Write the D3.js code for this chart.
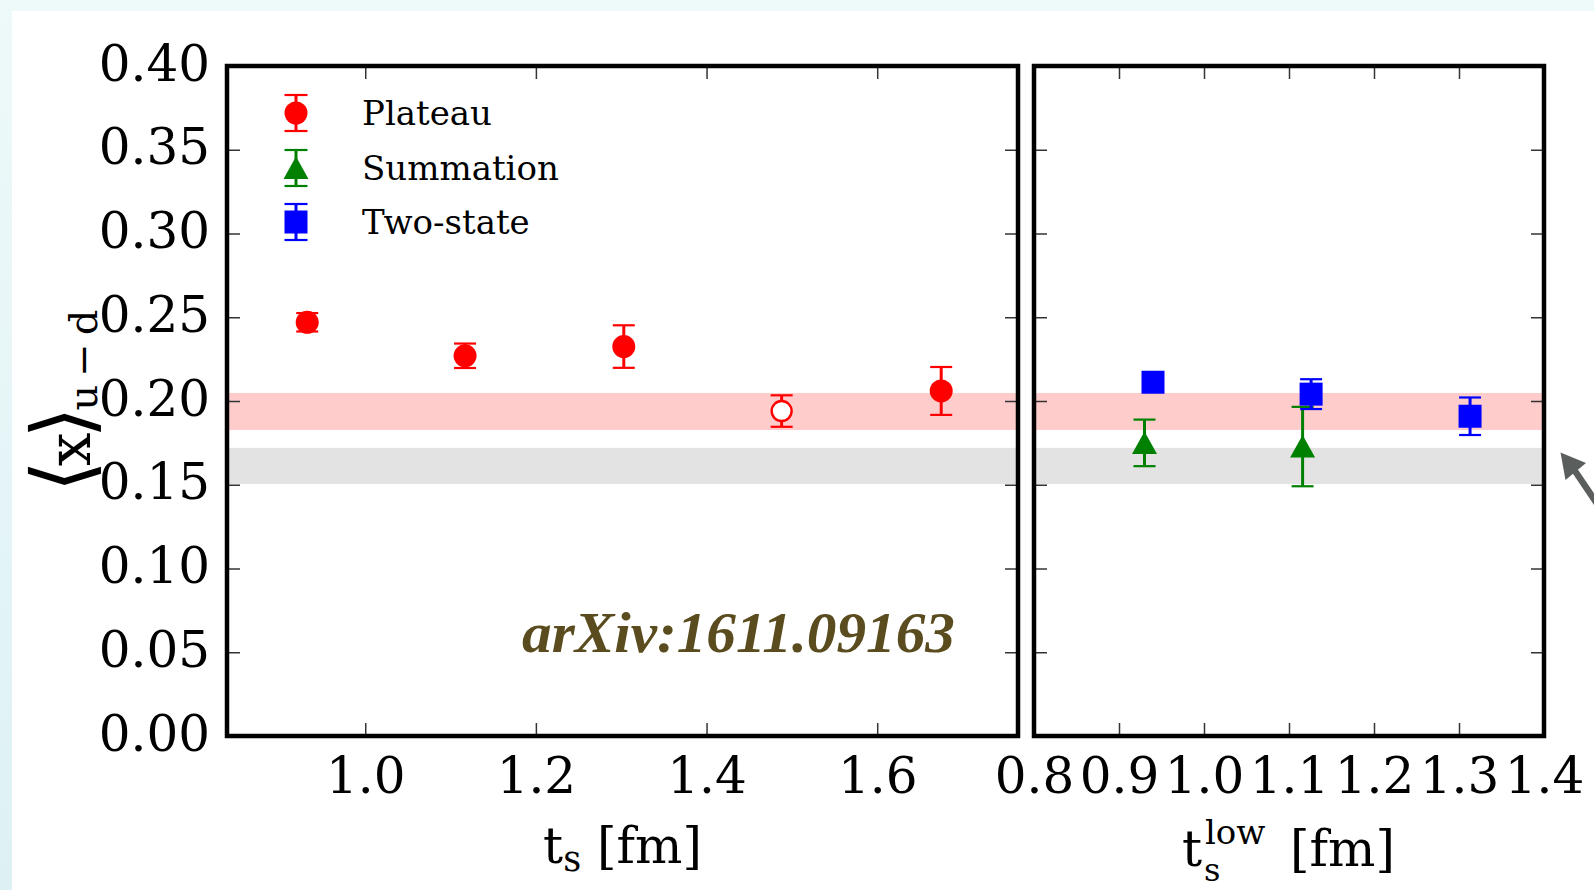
<!DOCTYPE html>
<html>
<head>
<meta charset="utf-8">
<script src="https://cdn.jsdelivr.net/npm/d3@7"></script>
<style>
  html, body { margin: 0; padding: 0; }
  body { width: 1594px; height: 890px; overflow: hidden; }
  svg { display: block; }
</style>
</head>
<body>
<svg id="chart" width="1594" height="890"></svg>
<script>
// ---------------- data ----------------
const yTicks = [0.00, 0.05, 0.10, 0.15, 0.20, 0.25, 0.30, 0.35, 0.40];
const leftXTicks = [1.0, 1.2, 1.4, 1.6];
const rightXTicks = [0.8, 0.9, 1.0, 1.1, 1.2, 1.3, 1.4];

const plateauX = [0.932, 1.117, 1.303, 1.488, 1.675];
const plateauY = [0.247, 0.227, 0.2325, 0.194, 0.206];
const plateauErr = [0.0055, 0.0073, 0.0127, 0.0094, 0.0143];
const plateauOpen = [false, false, false, true, false];

const summationX = [0.93, 1.116];
const summationY = [0.175, 0.1728];
const summationErr = [0.0139, 0.0237];

const twoStateX = [0.94, 1.126, 1.313];
const twoStateY = [0.2112, 0.2041, 0.1909];
const twoStateErr = [0.004, 0.0089, 0.0112];

const pinkBand = [0.1827, 0.2048];
const grayBand = [0.1504, 0.1720];

const legendLabels = ["Plateau", "Summation", "Two-state"];
const watermark = "arXiv:1611.09163";

// ---------------- layout ----------------
(function () {
const svg = d3.select("#chart");
const yTop = 66, yBot = 736;
const L = {x0: 227, x1: 1018};
const R = {x0: 1034, x1: 1544};

const y = d3.scaleLinear().domain([0, 0.4]).range([yBot, yTop]);
const xL = d3.scaleLinear().domain([0.838, 1.765]).range([L.x0, L.x1]);
const xR = d3.scaleLinear().domain([0.8, 1.4]).range([R.x0, R.x1]);

const RED = "#ff0000", GREEN = "#008000", BLUE = "#0000ff";
const SERIF = "'DejaVu Serif', serif";

const defs = svg.append("defs");
const grad = defs.append("linearGradient").attr("id", "bg").attr("x1", 0).attr("y1", 0).attr("x2", 0).attr("y2", 1);
grad.append("stop").attr("offset", "0%").attr("stop-color", "#eef9f9");
grad.append("stop").attr("offset", "100%").attr("stop-color", "#ddf1f5");
svg.append("rect").attr("width", 1594).attr("height", 890).attr("fill", "url(#bg)");
svg.append("rect").attr("x", 12).attr("y", 11).attr("width", 1594 - 12).attr("height", 890 - 11).attr("fill", "#ffffff");

function clip(id, p) {
  defs.append("clipPath").attr("id", id).append("rect")
    .attr("x", p.x0).attr("y", yTop).attr("width", p.x1 - p.x0).attr("height", yBot - yTop);
}
clip("clipL", L); clip("clipR", R);

function bands(p, id) {
  const g = svg.append("g").attr("clip-path", `url(#${id})`);
  g.append("rect").attr("x", p.x0).attr("width", p.x1 - p.x0)
    .attr("y", y(grayBand[1])).attr("height", y(grayBand[0]) - y(grayBand[1])).attr("fill", "#e3e3e3");
  g.append("rect").attr("x", p.x0).attr("width", p.x1 - p.x0)
    .attr("y", y(pinkBand[1])).attr("height", y(pinkBand[0]) - y(pinkBand[1])).attr("fill", "#ffcccc");
}
bands(L, "clipL"); bands(R, "clipR");

function errbar(g, cx, cy, lo, hi, color, capHalf) {
  g.append("line").attr("x1", cx).attr("x2", cx).attr("y1", lo).attr("y2", hi)
    .attr("stroke", color).attr("stroke-width", 3);
  [lo, hi].forEach(v => g.append("line").attr("x1", cx - capHalf).attr("x2", cx + capHalf)
    .attr("y1", v).attr("y2", v).attr("stroke", color).attr("stroke-width", 2.2));
}
function circle(g, cx, cy, open) {
  g.append("circle").attr("cx", cx).attr("cy", cy).attr("r", open ? 10 : 11.5)
    .attr("fill", open ? "#ffffff" : RED).attr("stroke", RED).attr("stroke-width", open ? 2.4 : 0);
}
function triangle(g, cx, cy) {
  g.append("path").attr("d", `M${cx},${cy - 11.5}L${cx + 12.5},${cy + 11}L${cx - 12.5},${cy + 11}Z`).attr("fill", GREEN);
}
function square(g, cx, cy) {
  g.append("rect").attr("x", cx - 11.5).attr("y", cy - 11.5).attr("width", 23).attr("height", 23).attr("fill", BLUE);
}

const gL = svg.append("g");
plateauX.forEach((xv, i) => {
  const cx = xL(xv), cy = y(plateauY[i]);
  errbar(gL, cx, cy, y(plateauY[i] - plateauErr[i]), y(plateauY[i] + plateauErr[i]), RED, 11);
  circle(gL, cx, cy, plateauOpen[i]);
});

const gR = svg.append("g");
summationX.forEach((xv, i) => {
  const cx = xR(xv), cy = y(summationY[i]);
  errbar(gR, cx, cy, y(summationY[i] - summationErr[i]), y(summationY[i] + summationErr[i]), GREEN, 11);
  triangle(gR, cx, cy);
});
twoStateX.forEach((xv, i) => {
  const cx = xR(xv), cy = y(twoStateY[i]);
  errbar(gR, cx, cy, y(twoStateY[i] - twoStateErr[i]), y(twoStateY[i] + twoStateErr[i]), BLUE, 11);
  square(gR, cx, cy);
});

function styleAxis(g) {
  g.select(".domain").remove();
  g.selectAll(".tick line").attr("stroke", "#333").attr("stroke-width", 1.5);
  g.selectAll(".tick text").attr("fill", "#000").attr("font-family", SERIF).attr("font-size", 50);
}
svg.append("g").attr("transform", `translate(${L.x0},0)`)
  .call(d3.axisLeft(y).tickValues(yTicks).tickFormat(d3.format(".2f")).tickSize(-13).tickPadding(17))
  .call(styleAxis).call(g => g.selectAll(".tick text").attr("dy", "0.28em"));
svg.append("g").attr("transform", `translate(${L.x1},0)`)
  .call(d3.axisRight(y).tickValues(yTicks).tickFormat("").tickSize(-13)).call(styleAxis);
svg.append("g").attr("transform", `translate(0,${yBot})`)
  .call(d3.axisBottom(xL).tickValues(leftXTicks).tickFormat(d3.format(".1f")).tickSize(-13).tickPadding(21))
  .call(styleAxis);
svg.append("g").attr("transform", `translate(0,${yTop})`)
  .call(d3.axisTop(xL).tickValues(leftXTicks).tickFormat("").tickSize(-13)).call(styleAxis);
svg.append("g").attr("transform", `translate(${R.x0},0)`)
  .call(d3.axisLeft(y).tickValues(yTicks).tickFormat("").tickSize(-13)).call(styleAxis);
svg.append("g").attr("transform", `translate(${R.x1},0)`)
  .call(d3.axisRight(y).tickValues(yTicks).tickFormat("").tickSize(-13)).call(styleAxis);
svg.append("g").attr("transform", `translate(0,${yBot})`)
  .call(d3.axisBottom(xR).tickValues(rightXTicks).tickFormat(d3.format(".1f")).tickSize(-13).tickPadding(21))
  .call(styleAxis);
svg.append("g").attr("transform", `translate(0,${yTop})`)
  .call(d3.axisTop(xR).tickValues(rightXTicks).tickFormat("").tickSize(-13)).call(styleAxis);

[L, R].forEach(p => svg.append("rect").attr("x", p.x0).attr("y", yTop)
  .attr("width", p.x1 - p.x0).attr("height", yBot - yTop)
  .attr("fill", "none").attr("stroke", "#000").attr("stroke-width", 4.5));

// legend
const legY = [113, 168, 222];
const legX = 296;
const lg = svg.append("g");
errbar(lg, legX, legY[0], legY[0] + 18, legY[0] - 18, RED, 11.5); circle(lg, legX, legY[0], false);
errbar(lg, legX, legY[1], legY[1] + 18, legY[1] - 18, GREEN, 11.5); triangle(lg, legX, legY[1]);
errbar(lg, legX, legY[2], legY[2] + 18, legY[2] - 18, BLUE, 11.5); square(lg, legX, legY[2]);
legendLabels.forEach((t, i) => lg.append("text").attr("x", 362).attr("y", legY[i] + 12)
  .attr("font-family", SERIF).attr("font-size", 34).attr("fill", "#000").text(t));

// x labels
const xl1 = svg.append("text").attr("x", (L.x0 + L.x1) / 2).attr("y", 863).attr("text-anchor", "middle")
  .attr("font-family", SERIF).attr("font-size", 50).attr("fill", "#000");
xl1.append("tspan").text("t");
xl1.append("tspan").attr("font-size", 35).attr("dy", 8).text("s");
xl1.append("tspan").attr("dy", -8).text(" [fm]");

// right label: t with stacked subscript "s" and superscript "low"
const xl2 = svg.append("g").attr("font-family", SERIF).attr("fill", "#000");
xl2.append("text").attr("x", 1182).attr("y", 866).attr("font-size", 50).text("t");
xl2.append("text").attr("x", 1204).attr("y", 881).attr("font-size", 32).text("s");
xl2.append("text").attr("x", 1205).attr("y", 844).attr("font-size", 34).text("low");
xl2.append("text").attr("x", 1290).attr("y", 866).attr("font-size", 50).text("[fm]");

// y label
const yl = svg.append("text").attr("transform", "translate(90,401) rotate(-90)")
  .attr("text-anchor", "middle").attr("font-family", SERIF).attr("fill", "#000");
yl.append("tspan").attr("font-family", "'DejaVu Sans', sans-serif").attr("font-size", 82).text("⟨");
yl.append("tspan").attr("font-size", 60).attr("dx", -6).text("x");
yl.append("tspan").attr("font-family", "'DejaVu Sans', sans-serif").attr("font-size", 82).attr("dx", -6).text("⟩");
yl.append("tspan").attr("font-size", 40).attr("dy", 7).attr("dx", -4).text("u\u2009\u2212\u2009d");

// watermark
svg.append("text").attr("x", 522).attr("y", 652)
  .attr("font-family", "'Liberation Serif', serif").attr("font-style", "italic").attr("font-weight", "bold")
  .attr("font-size", 58).attr("fill", "#5a4c1e").attr("textLength", 433).attr("lengthAdjust", "spacingAndGlyphs")
  .text(watermark);

// arrow annotation
svg.append("line").attr("x1", 1575).attr("y1", 471).attr("x2", 1600).attr("y2", 508)
  .attr("stroke", "#5a5e5c").attr("stroke-width", 6.5);
svg.append("path").attr("d", "M1560.5,452.5L1586,463L1565.5,480Z").attr("fill", "#5a5e5c");
})();
</script>
</body>
</html>
